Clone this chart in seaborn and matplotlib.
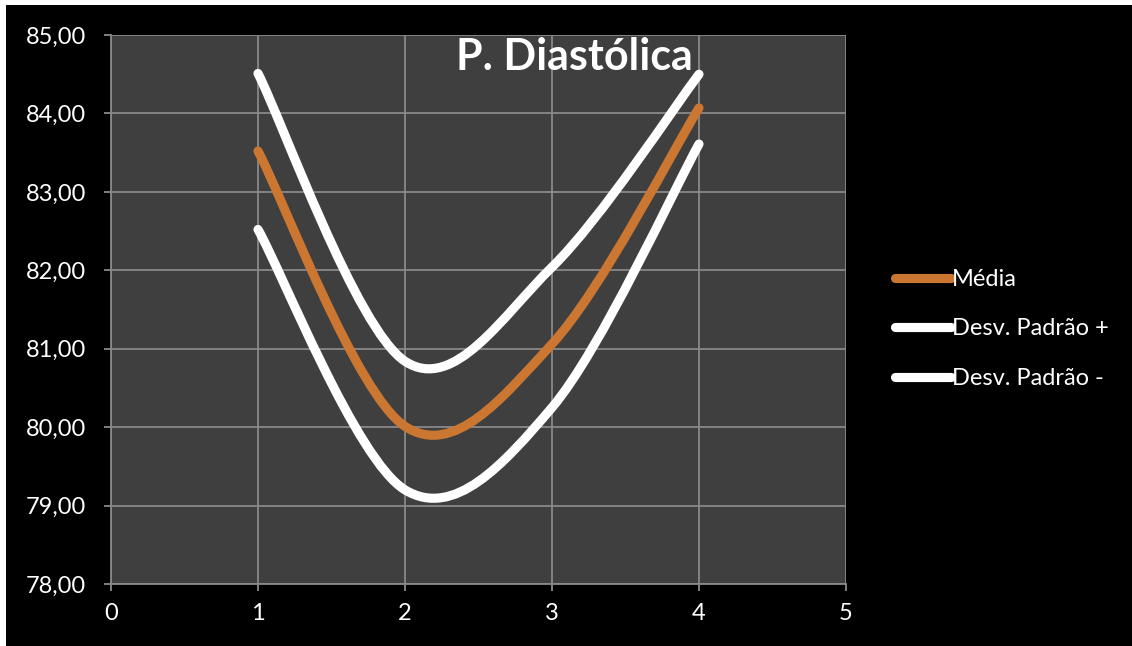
import numpy as np
import pandas as pd
import seaborn as sns
import matplotlib
matplotlib.use("Agg")
import matplotlib.pyplot as plt
from matplotlib.path import Path
from matplotlib.patches import PathPatch, Rectangle
from matplotlib.lines import Line2D

# Blood pressure (diastolic) across four measurements
momento = [1, 2, 3, 4]
media = [83.52, 80.01, 81.06, 84.07]
desv_mais = [84.51, 80.84, 82.04, 84.50]
desv_menos = [82.52, 79.20, 80.25, 83.61]

series_names = ["Média", "Desv. Padrão +", "Desv. Padrão -"]
series_values = [media, desv_mais, desv_menos]
series_colors = ["#CB7732", "#FFFFFF", "#FFFFFF"]

x_ticks = [0, 1, 2, 3, 4, 5]
y_ticks = [78, 79, 80, 81, 82, 83, 84, 85]
title = "P. Diastólica"

sns.set_theme(style="darkgrid", rc={
    "axes.facecolor": "#3F3F3F",
    "grid.color": "#898989",
    "grid.linewidth": 1.3,
    "axes.edgecolor": "#898989",
})
plt.rcParams["font.family"] = ["Lato", "DejaVu Sans"]


def smooth_path(xs, ys):
    """Cubic Bezier path through the points (Catmull-Rom style tangents)."""
    n = len(xs)
    verts = [(xs[0], ys[0])]
    codes = [Path.MOVETO]
    for i in range(n - 1):
        a = i - 1 if i > 0 else i
        b = i + 2 if i + 2 < n else i + 1
        c1 = (xs[i] + (xs[i + 1] - xs[a]) / 6.0, ys[i] + (ys[i + 1] - ys[a]) / 6.0)
        c2 = (xs[i + 1] - (xs[b] - xs[i]) / 6.0, ys[i + 1] - (ys[b] - ys[i]) / 6.0)
        verts += [c1, c2, (xs[i + 1], ys[i + 1])]
        codes += [Path.CURVE4] * 3
    return Path(verts, codes)


fig = plt.figure(figsize=(11.32, 6.46), dpi=100, facecolor="white")
# black chart frame
fig.patches.append(Rectangle((6 / 1132, 0), 1, 1 - 5 / 646, transform=fig.transFigure,
                             facecolor="black", edgecolor="none", zorder=-10))

ax = fig.add_axes([111 / 1132, 1 - 584 / 646, (846 - 111) / 1132, (584 - 35) / 646])

df = pd.DataFrame({"momento": momento})
for name, vals in zip(series_names, series_values):
    df[name] = vals

handles = []
for name, col in zip(series_names, series_colors):
    p = smooth_path(df["momento"].to_numpy(float), df[name].to_numpy(float))
    ax.add_patch(PathPatch(p, facecolor="none", edgecolor=col, linewidth=6.6,
                           capstyle="round", joinstyle="round", zorder=3))
    handles.append(Line2D([], [], color=col, linewidth=6.6, solid_capstyle="round"))

ax.set_xlim(0, 5)
ax.set_ylim(78, 85)
ax.set_xticks(x_ticks)
ax.set_yticks(y_ticks)
ax.set_xticklabels([str(v) for v in x_ticks])
ax.set_yticklabels([f"{v:.2f}".replace(".", ",") for v in y_ticks])
ax.tick_params(axis="both", colors="#898989", labelcolor="white", labelsize=17,
               length=5, width=1.3, direction="out", bottom=True, left=True)
ax.tick_params(axis="x", pad=9)
ax.tick_params(axis="y", pad=13)
for side in ["top", "right"]:
    ax.spines[side].set_visible(False)
for side in ["left", "bottom"]:
    ax.spines[side].set_visible(True)
    ax.spines[side].set_color("#898989")
    ax.spines[side].set_linewidth(1.3)
ax.set_xlabel("")
ax.set_ylabel("")

fig.text(574 / 1132, 1 - 70 / 646, title, color="white", fontsize=31,
         fontweight="bold", ha="center", va="baseline")

leg = fig.legend(handles, series_names, loc="center left",
                 bbox_to_anchor=(886 / 1132, 1 - 329 / 646),
                 frameon=False, fontsize=17, labelcolor="white",
                 handlelength=2.35, handletextpad=0.05, labelspacing=1.2,
                 borderaxespad=0)

fig.savefig("out.png", dpi=100, facecolor=fig.get_facecolor())
